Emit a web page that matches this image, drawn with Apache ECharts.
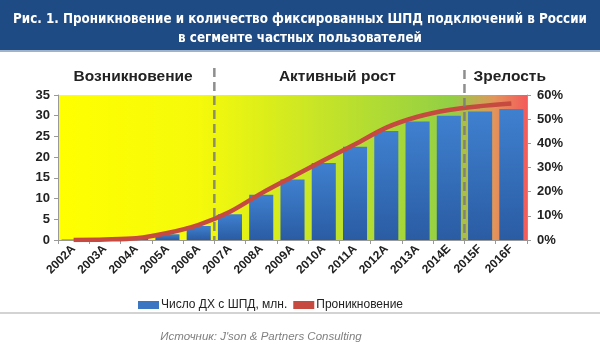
<!DOCTYPE html>
<html>
<head>
<meta charset="utf-8">
<script src="https://cdn.jsdelivr.net/npm/echarts@6/dist/echarts.min.js"></script>
<style>
  html, body { margin: 0; padding: 0; background: #fff; }
  #chart { width: 600px; height: 353px; }
</style>
</head>
<body>
<div id="chart"></div>
<script>
var years = ['2002A', '2003A', '2004A', '2005A', '2006A', '2007A', '2008A', '2009A',
  '2010A', '2011A', '2012A', '2013A', '2014E', '2015F', '2016F'];
var households = [0.1, 0.2, 0.3, 1.4, 3.4, 6.2, 10.9, 14.6, 18.6, 22.5, 26.3, 28.6, 30.0, 31.0, 31.6];
var penetration = [0, 0.2, 0.7, 2.9, 6.3, 11.7, 19.3, 26.2, 33.0, 39.6, 46.5, 51.0, 53.8, 55.4, 56.5];
var leftTicks = [0, 35, 5];
var rightTicks = [0, 60, 10];
var phases = ['Возникновение', 'Активный рост', 'Зрелость'];
var phaseBreaks = [4, 12]; // после 2006A и после 2014E

var myChart = echarts.init(document.getElementById('chart'));

var option = {
    animation: false,
    textStyle: {fontFamily: 'Liberation Sans'},
    title: {
        text: 'Рис. 1. Проникновение и количество фиксированных ШПД подключений в России\nв сегменте частных пользователей',
        left: 'center',
        top: 5,
        textStyle: {color: '#fff', fontSize: 13.3, fontWeight: 'bold', lineHeight: 19,
            fontFamily: 'DejaVu Sans Condensed'}
    },
    legend: {
        top: 294,
        left: 133,
        itemGap: 6,
        itemWidth: 21,
        itemHeight: 8,
        textStyle: {fontSize: 12, color: '#222', fontFamily: 'Liberation Sans', padding: [0, 0, 0, -3]},
        data: [
            {name: 'Число ДХ с ШПД, млн.', icon: 'rect', itemStyle: {color: '#3a76c2'}},
            {name: 'Проникновение', icon: 'rect', itemStyle: {color: '#c64a40'}}
        ]
    },
    grid: {
        left: 58, right: 73, top: 95, bottom: 113,
        show: true,
        borderWidth: 0,
        backgroundColor: {
            type: 'linear', x: 0, y: 0, x2: 1, y2: 0,
            colorStops: [
                {offset: 0, color: '#ffff00'},
                {offset: 0.3, color: '#f6fa0a'},
                {offset: 0.55, color: '#c8e526'},
                {offset: 0.84, color: '#92cf45'},
                {offset: 0.93, color: '#e2955a'},
                {offset: 1, color: '#f45a5a'}
            ]
        }
    },
    xAxis: {
        type: 'category',
        data: years,
        axisLine: {lineStyle: {color: '#999'}},
        axisTick: {show: true, length: 4, lineStyle: {color: '#999'}},
        axisLabel: {rotate: 45, fontSize: 12, fontWeight: 'bold', color: '#222', margin: 7}
    },
    yAxis: [{
        type: 'value',
        min: leftTicks[0], max: leftTicks[1], interval: leftTicks[2],
        splitLine: {show: false},
        axisLine: {show: true, lineStyle: {color: '#999'}},
        axisTick: {show: true, length: 4, lineStyle: {color: '#999'}},
        axisLabel: {fontSize: 13, fontWeight: 'bold', color: '#222', margin: 8}
    }, {
        type: 'value',
        min: rightTicks[0], max: rightTicks[1], interval: rightTicks[2],
        splitLine: {show: false},
        axisLine: {show: true, lineStyle: {color: '#999'}},
        axisTick: {show: true, length: 4, lineStyle: {color: '#999'}},
        axisLabel: {fontSize: 13, fontWeight: 'bold', color: '#222', margin: 10,
            formatter: '{value}%'}
    }],
    series: [{
        name: 'Число ДХ с ШПД, млн.',
        type: 'bar',
        data: households,
        barCategoryGap: '23%',
        itemStyle: {
            color: {
                type: 'linear', x: 0, y: 0, x2: 0, y2: 1,
                colorStops: [{offset: 0, color: '#3f80cf'}, {offset: 1, color: '#2a5ca3'}]
            }
        }
    }, {
        name: 'Проникновение',
        type: 'line',
        yAxisIndex: 1,
        data: penetration,
        smooth: 0.3,
        symbol: 'none',
        lineStyle: {color: '#c64a40', width: 4.5},
        itemStyle: {color: '#c64a40'}
    }]
};

myChart.setOption(option);

// фазы и пунктирные границы
var gridBottom = 240;
var left = myChart.convertToPixel({xAxisIndex: 0}, years[0]);
var step = myChart.convertToPixel({xAxisIndex: 0}, years[1]) - left;
var x0 = left - step / 2;
var x1 = x0 + step * years.length;
var breaksPx = phaseBreaks.map(function (i) {
    return myChart.convertToPixel({xAxisIndex: 0}, years[i]) + step / 2;
});
var edges = [x0].concat(breaksPx).concat([x1]);

var graphics = [{
    type: 'rect', z: -10,
    shape: {x: 0, y: 0, width: 600, height: 50},
    style: {fill: '#1f4b84'}
}, {
    type: 'rect', z: -10,
    shape: {x: 0, y: 50, width: 600, height: 2},
    style: {fill: '#9fb3cc'}
}, {
    type: 'line',
    shape: {x1: 0, y1: 313, x2: 600, y2: 313},
    style: {stroke: '#c4c4c4', lineWidth: 1.5}
}, {
    type: 'text',
    x: 261, y: 337,
    style: {text: 'Источник: J\'son & Partners Consulting', fill: '#808080',
        font: 'italic 11.5px "Liberation Sans"', align: 'center', verticalAlign: 'middle'}
}];
breaksPx.forEach(function (x, k) {
    graphics.push({
        type: 'line', z: 20,
        shape: {x1: x, y1: k === 0 ? 68 : 70, x2: x, y2: gridBottom},
        style: {stroke: '#7a7a7a', lineWidth: 2.5, lineDash: [9, 5], opacity: 0.85}
    });
});
phases.forEach(function (p, k) {
    graphics.push({
        type: 'text', z: 20,
        x: (edges[k] + edges[k + 1]) / 2 + (k === 2 ? 14 : (k === 1 ? -2 : -3)),
        y: 77,
        style: {text: p, fill: '#222', font: 'bold 15.5px "Liberation Sans"', align: 'center', verticalAlign: 'middle'}
    });
});
myChart.setOption({graphic: graphics});
</script>
</body>
</html>
